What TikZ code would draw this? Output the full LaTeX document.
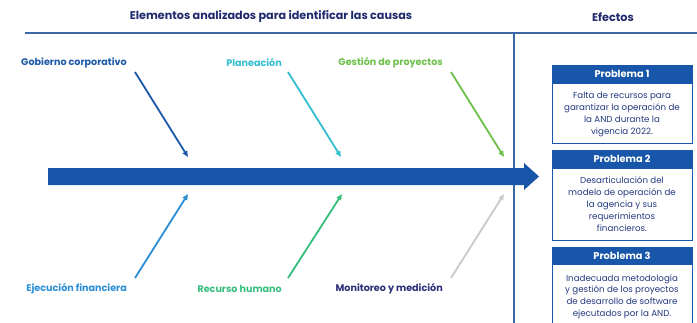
\documentclass[tikz,border=0pt]{standalone}
\usepackage{fontspec}
\setmainfont{Poppins}
\usetikzlibrary{arrows.meta}
\definecolor{navy}{HTML}{1F2A6E}
\definecolor{spine}{HTML}{1756A8}
\definecolor{divider}{HTML}{3A68A6}
\definecolor{cGob}{HTML}{1C58A8}
\definecolor{cPla}{HTML}{33BDD0}
\definecolor{cGes}{HTML}{6CC04A}
\definecolor{cEje}{HTML}{2A8DD6}
\definecolor{cRec}{HTML}{35BD7C}
\definecolor{cMon}{HTML}{2B2F78}
\definecolor{cGray}{HTML}{C8C9CE}
\definecolor{boxtext}{HTML}{243A80}
\tikzset{
  title/.style={font=\fontsize{11.2}{13}\selectfont\bfseries, text=navy},
  cause/.style={font=\fontsize{9.6}{11}\selectfont\bfseries, anchor=east, inner sep=0pt},
  bone/.style={line width=1.8pt, -{Triangle[length=6pt,width=5pt]}},
  header/.style={fill=spine, draw=spine, line width=0.6pt, minimum width=140pt, minimum height=17pt, inner sep=0pt, text=white, font=\fontsize{9.8}{11}\selectfont\bfseries},
  body/.style={draw=spine, line width=0.6pt, fill=white, minimum width=140pt, inner sep=0pt},
  bodytext/.style={text=boxtext, align=center, inner sep=0pt, font=\fontsize{8.7}{12}\selectfont},
}
\begin{document}
\begin{tikzpicture}[x=1pt,y=-1pt]
\useasboundingbox (0,0) rectangle (697,322);
% titles
\node[title] (t1) at (271,17) {Elementos analizados para identificar las causas};
\node[title] (t2) at (613,17) {Efectos};
% dividers
\coordinate (hl) at (25,33);
\coordinate (hr) at (697,33);
\coordinate (vt) at (514,33);
\coordinate (vb) at (514,323);
\draw[divider, line width=1.5pt] (hl) -- (hr);
\draw[divider, line width=1.5pt] (vt) -- (vb);
% spine
\fill[spine] (48,168) -- (524,168) -- (524,163) -- (539,176.5) -- (524,190) -- (524,185) -- (48,185) -- cycle;
\coordinate (spinetip) at (539,176.5);
% causes
\node[cause, text=cGob] (gob) at (127,63) {Gobierno corporativo};
\node[cause, text=cPla] (pla) at (282,63) {Planeación};
\node[cause, text=cGes] (ges) at (443,63) {Gestión de proyectos};
\node[cause, text=cEje] (eje) at (127,289) {Ejecución financiera};
\node[cause, text=cRec] (rec) at (282,289) {Recurso humano};
\node[cause, text=cMon] (mon) at (443,289) {Monitoreo y medición};
% bone end points
\coordinate (gobS) at (135,72);  \coordinate (gobE) at (188,157);
\coordinate (plaS) at (288,72);  \coordinate (plaE) at (341,157);
\coordinate (gesS) at (451,72);  \coordinate (gesE) at (504,157);
\coordinate (ejeS) at (135,278); \coordinate (ejeE) at (188,194);
\coordinate (recS) at (288,278); \coordinate (recE) at (342,194);
\coordinate (monS) at (451,278); \coordinate (monE) at (504,194);
\draw[bone, cGob] (gobS) -- (gobE);
\draw[bone, cPla] (plaS) -- (plaE);
\draw[bone, cGes] (gesS) -- (gesE);
\draw[bone, cEje] (ejeS) -- (ejeE);
\draw[bone, cRec] (recS) -- (recE);
\draw[bone, cGray] (monS) -- (monE);
% effects boxes
\node[body, minimum height=60pt] (b1) at (622,113) {};
\node[header, anchor=south] (h1) at (b1.north) {Problema 1};
\node[bodytext] (b1t) at (622,114.5) {Falta de recursos para\\garantizar la operación de\\la AND durante la\\vigencia 2022.};
\node[body, minimum height=72pt] (b2) at (622,204) {};
\node[header, anchor=south] (h2) at (b2.north) {Problema 2};
\node[bodytext] (b2t) at (622,204) {Desarticulación del\\modelo de operación de\\la agencia y sus\\requerimientos\\financieros.};
\node[body, minimum height=60pt] (b3) at (622,294) {};
\node[header, anchor=north] (h3) at (622,247) {Problema 3};
\node[bodytext, font=\fontsize{8.7}{11.6}\selectfont] (b3t) at (622,296.5) {Inadecuada metodología\\y gestión de los proyectos\\de desarrollo de software\\ejecutados por la AND.};
\end{tikzpicture}
\end{document}
